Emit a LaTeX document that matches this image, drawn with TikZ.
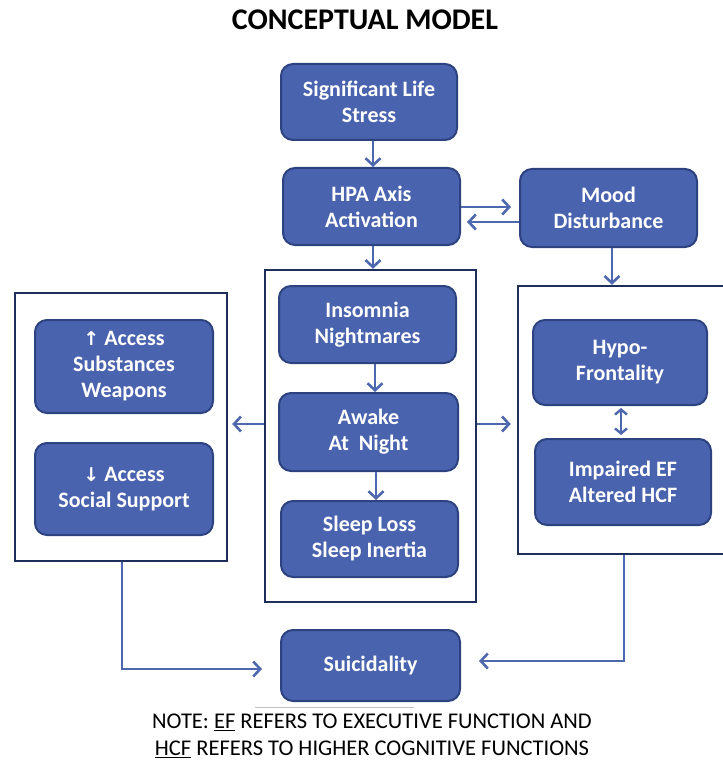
\documentclass[tikz,border=0pt]{standalone}
\usepackage{fontspec}
\setmainfont{Carlito}
\newfontfamily\symfont{DejaVu Sans}
\usetikzlibrary{arrows.meta}
\definecolor{boxfill}{HTML}{4A63AE}
\definecolor{boxedge}{HTML}{2C4380}
\definecolor{framecol}{HTML}{1F2D5A}
\definecolor{arrowcol}{HTML}{4D68AE}
\tikzset{
  box/.style={draw=boxedge, line width=2pt, fill=boxfill, rounded corners=12pt,
    text=white, font=\bfseries\fontsize{22}{26}\selectfont, align=center,
    inner sep=0pt},
  frame/.style={draw=framecol, line width=2.4pt, inner sep=0pt},
  conn/.style={draw=arrowcol, line width=2.6pt,
    -{Straight Barb[length=7pt,width=15pt,line width=2.6pt]}},
  dconn/.style={draw=arrowcol, line width=2.6pt,
    {Straight Barb[length=5pt,width=12pt,line width=2.4pt]}-{Straight Barb[length=5pt,width=12pt,line width=2.4pt]}},
}
\begin{document}
\begin{tikzpicture}[x=1pt,y=-1pt]
\useasboundingbox[fill=white] (0,0) rectangle (722,767);
% title
\node[font=\bfseries\fontsize{30}{32}\selectfont] (title) at (365,20) {CONCEPTUAL MODEL};
% frames
\node[frame, minimum width=211pt, minimum height=332pt] (cframe) at (370.5,436) {};
\node[frame, minimum width=212pt, minimum height=268pt] (lframe) at (121,427) {};
\node[frame, minimum width=214pt, minimum height=268pt] (rframe) at (625,420) {};
% boxes
\node[box, minimum width=176pt, minimum height=76pt] (sls) at (369,102) {Significant Life\\Stress};
\node[box, minimum width=177pt, minimum height=77pt] (hpa) at (371.5,206.5) {HPA Axis\\Activation};
\node[box, minimum width=177pt, minimum height=78pt] (mood) at (608.5,208) {Mood\\Disturbance};
\node[box, minimum width=177pt, minimum height=77pt] (ins) at (367.5,324.5) {Insomnia\\Nightmares};
\node[box, minimum width=179pt, minimum height=78pt] (awake) at (368.5,432) {Awake\\At\ \ Night};
\node[box, minimum width=177pt, minimum height=76pt] (sleep) at (369.5,539) {Sleep Loss\\Sleep Inertia};
\node[box, minimum width=178pt, minimum height=93pt] (up) at (124,366.5) {{\symfont\fontsize{19}{26}\selectfont ↑} Access\\Substances\\Weapons};
\node[box, minimum width=178pt, minimum height=92pt] (down) at (124,489) {{\symfont\fontsize{19}{26}\selectfont ↓} Access\\Social Support};
\node[box, minimum width=174pt, minimum height=85pt] (hypo) at (620,362.5) {Hypo-\\Frontality};
\node[box, minimum width=176pt, minimum height=86pt] (imp) at (623,482) {Impaired EF\\Altered HCF};
\node[box, minimum width=179pt, minimum height=71pt] (sui) at (370.5,665.5) {Suicidality};
% connectors
\draw[conn] (sls.south -| 373,0) -- (hpa.north -| 373,0);
\draw[conn] (hpa.south -| 373,0) -- (cframe.north -| 373,0);
\draw[conn] (ins.south -| 375,0) -- (awake.north -| 375,0);
\draw[conn] (awake.south -| 376,0) -- (sleep.north -| 376,0);
\draw[conn] (mood.south -| 612,0) -- (rframe.north -| 612,0);
\draw[conn, shorten >=8pt] (hpa.east |- 0,207) -- (mood.west |- 0,207);
\draw[conn, shorten >=6pt] (mood.west |- 0,222) -- (hpa.east |- 0,222);
\draw[conn, shorten >=4pt] (cframe.west |- 0,424) -- (lframe.east |- 0,424);
\draw[conn, shorten >=6pt] (cframe.east |- 0,424) -- (rframe.west |- 0,424);
\draw[dconn, shorten <=2pt, shorten >=3pt] (hypo.south -| 621,0) -- (imp.north -| 621,0);
\draw[conn, shorten >=18pt] (lframe.south -| 122,0) |- (sui.west |- 0,669);
\draw[conn, shorten >=18pt] (rframe.south -| 624,0) |- (sui.east |- 0,661);
% note
\draw[gray!50, line width=1pt] (255,707) coordinate (gl1) -- (414,707) coordinate (gl2);
\node[font=\fontsize{22.5}{27}\selectfont, align=center] (note) at (372,736)
  {NOTE: \underline{EF} REFERS TO EXECUTIVE FUNCTION AND\\\underline{HCF} REFERS TO HIGHER COGNITIVE FUNCTIONS};
\end{tikzpicture}
\end{document}
